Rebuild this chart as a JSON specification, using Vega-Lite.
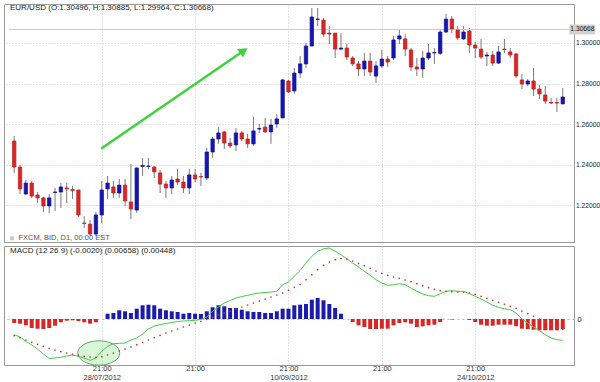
{
  "$schema": "https://vega.github.io/schema/vega-lite/v6.json",
  "padding": {"left": 3, "top": 3, "right": 0, "bottom": 0},
  "background": "white",
  "spacing": 2,
  "config": {
    "view": {"stroke": "#9a9a9a", "strokeWidth": 1},
    "font": "Liberation Sans",
    "axis": {"labelFont": "Liberation Sans"}
  },
  "datasets": {
    "k": [
      {"i":0,"o":1.2517,"h":1.2542,"l":1.2360,"c":1.2389,"m":-0.00314,"s":-0.00334,"hist":-0.0008},
      {"i":1,"o":1.2389,"h":1.2399,"l":1.2256,"c":1.2281,"m":-0.0036,"s":-0.00374,"hist":-0.00094},
      {"i":2,"o":1.2256,"h":1.2325,"l":1.2251,"c":1.2310,"m":-0.00446,"s":-0.0042,"hist":-0.00126},
      {"i":3,"o":1.2310,"h":1.2320,"l":1.2237,"c":1.2246,"m":-0.0052,"s":-0.00466,"hist":-0.0018},
      {"i":4,"o":1.2251,"h":1.2266,"l":1.2212,"c":1.2237,"m":-0.006,"s":-0.00506,"hist":-0.00194},
      {"i":5,"o":1.2237,"h":1.2242,"l":1.2168,"c":1.2197,"m":-0.007,"s":-0.00546,"hist":-0.002},
      {"i":6,"o":1.2197,"h":1.2256,"l":1.2163,"c":1.2237,"m":-0.0079,"s":-0.00586,"hist":-0.0018},
      {"i":7,"o":1.2264,"h":1.2286,"l":1.2172,"c":1.2266,"m":-0.0078,"s":-0.0062,"hist":-0.00134},
      {"i":8,"o":1.2266,"h":1.2310,"l":1.2187,"c":1.2291,"m":-0.00766,"s":-0.00654,"hist":-0.00066},
      {"i":9,"o":1.2286,"h":1.2310,"l":1.2212,"c":1.2281,"m":-0.0074,"s":-0.0068,"hist":-0.00034},
      {"i":10,"o":1.2278,"h":1.2296,"l":1.2232,"c":1.2273,"m":-0.0072,"s":-0.00706,"hist":-0.00026},
      {"i":11,"o":1.2276,"h":1.2276,"l":1.2143,"c":1.2153,"m":-0.00746,"s":-0.00726,"hist":-0.0004},
      {"i":12,"o":1.2113,"h":1.2147,"l":1.2089,"c":1.2111,"m":-0.0078,"s":-0.00746,"hist":-0.00066},
      {"i":13,"o":1.2108,"h":1.2128,"l":1.2049,"c":1.2059,"m":-0.00826,"s":-0.0076,"hist":-0.00094},
      {"i":14,"o":1.2059,"h":1.2167,"l":1.2049,"c":1.2153,"m":-0.0078,"s":-0.00766,"hist":-0.00066},
      {"i":15,"o":1.2153,"h":1.2320,"l":1.2113,"c":1.2276,"m":-0.00646,"s":-0.00754,"hist":0},
      {"i":16,"o":1.2281,"h":1.2345,"l":1.2232,"c":1.2310,"m":-0.00546,"s":-0.0072,"hist":0.00106},
      {"i":17,"o":1.2291,"h":1.2320,"l":1.2237,"c":1.2261,"m":-0.00494,"s":-0.0068,"hist":0.0012},
      {"i":18,"o":1.2261,"h":1.2330,"l":1.2237,"c":1.2300,"m":-0.00486,"s":-0.0064,"hist":0.00174},
      {"i":19,"o":1.2300,"h":1.2330,"l":1.2197,"c":1.2222,"m":-0.0048,"s":-0.006,"hist":0.00154},
      {"i":20,"o":1.2217,"h":1.2404,"l":1.2133,"c":1.2182,"m":-0.0042,"s":-0.0056,"hist":0.0012},
      {"i":21,"o":1.2177,"h":1.2389,"l":1.2163,"c":1.2384,"m":-0.0038,"s":-0.00514,"hist":0.00206},
      {"i":22,"o":1.2392,"h":1.2433,"l":1.2345,"c":1.2397,"m":-0.003,"s":-0.00466,"hist":0.00274},
      {"i":23,"o":1.2392,"h":1.2433,"l":1.2379,"c":1.2394,"m":-0.002,"s":-0.0042,"hist":0.00286},
      {"i":24,"o":1.2389,"h":1.2394,"l":1.2335,"c":1.2365,"m":-0.0014,"s":-0.00374,"hist":0.00274},
      {"i":25,"o":1.2360,"h":1.2374,"l":1.2261,"c":1.2305,"m":-0.00114,"s":-0.00326,"hist":0.00206},
      {"i":26,"o":1.2305,"h":1.2320,"l":1.2237,"c":1.2286,"m":-0.0009,"s":-0.0028,"hist":0.00174},
      {"i":27,"o":1.2286,"h":1.2345,"l":1.2256,"c":1.2325,"m":-0.0007,"s":-0.0024,"hist":0.00154},
      {"i":28,"o":1.2330,"h":1.2379,"l":1.2300,"c":1.2315,"m":-0.0005,"s":-0.002,"hist":0.0014},
      {"i":29,"o":1.2315,"h":1.2345,"l":1.2261,"c":1.2286,"m":-0.0004,"s":-0.0016,"hist":0.00106},
      {"i":30,"o":1.2286,"h":1.2379,"l":1.2256,"c":1.2350,"m":-0.00034,"s":-0.0012,"hist":0.0012},
      {"i":31,"o":1.2350,"h":1.2379,"l":1.2315,"c":1.2330,"m":-0.00026,"s":-0.0008,"hist":0.00106},
      {"i":32,"o":1.2342,"h":1.2360,"l":1.2296,"c":1.2340,"m":-0.0001,"s":-0.00046,"hist":0.001},
      {"i":33,"o":1.2335,"h":1.2483,"l":1.2325,"c":1.2463,"m":0.0004,"s":-0.00006,"hist":0.00154},
      {"i":34,"o":1.2463,"h":1.2537,"l":1.2434,"c":1.2527,"m":0.00154,"s":0.00034,"hist":0.00234},
      {"i":35,"o":1.2527,"h":1.2586,"l":1.2503,"c":1.2557,"m":0.0024,"s":0.0008,"hist":0.00274},
      {"i":36,"o":1.2562,"h":1.2567,"l":1.2478,"c":1.2507,"m":0.0032,"s":0.0012,"hist":0.00254},
      {"i":37,"o":1.2507,"h":1.2532,"l":1.2483,"c":1.2493,"m":0.0037,"s":0.0016,"hist":0.0022},
      {"i":38,"o":1.2498,"h":1.2581,"l":1.2468,"c":1.2557,"m":0.0042,"s":0.002,"hist":0.0022},
      {"i":39,"o":1.2557,"h":1.2567,"l":1.2517,"c":1.2527,"m":0.0045,"s":0.0024,"hist":0.00186},
      {"i":40,"o":1.2527,"h":1.2552,"l":1.2483,"c":1.2503,"m":0.00474,"s":0.0028,"hist":0.00154},
      {"i":41,"o":1.2503,"h":1.2636,"l":1.2493,"c":1.2567,"m":0.005,"s":0.0032,"hist":0.0014},
      {"i":42,"o":1.2576,"h":1.2601,"l":1.2557,"c":1.2579,"m":0.0052,"s":0.0036,"hist":0.0014},
      {"i":43,"o":1.2586,"h":1.2631,"l":1.2557,"c":1.2562,"m":0.0053,"s":0.004,"hist":0.0012},
      {"i":44,"o":1.2562,"h":1.2626,"l":1.2503,"c":1.2596,"m":0.0054,"s":0.0044,"hist":0.0012},
      {"i":45,"o":1.2601,"h":1.2650,"l":1.2581,"c":1.2626,"m":0.00554,"s":0.0048,"hist":0.00154},
      {"i":46,"o":1.2631,"h":1.2823,"l":1.2631,"c":1.2818,"m":0.00686,"s":0.0052,"hist":0.00206},
      {"i":47,"o":1.2813,"h":1.2818,"l":1.2754,"c":1.2759,"m":0.0074,"s":0.00574,"hist":0.00206},
      {"i":48,"o":1.2764,"h":1.2877,"l":1.2749,"c":1.2852,"m":0.00854,"s":0.00634,"hist":0.00274},
      {"i":49,"o":1.2852,"h":1.2936,"l":1.2828,"c":1.2897,"m":0.0097,"s":0.0069,"hist":0.00286},
      {"i":50,"o":1.2897,"h":1.3000,"l":1.2877,"c":1.2985,"m":0.0112,"s":0.00786,"hist":0.003},
      {"i":51,"o":1.2985,"h":1.3172,"l":1.2985,"c":1.3128,"m":0.01254,"s":0.00886,"hist":0.00386},
      {"i":52,"o":1.3116,"h":1.3172,"l":1.3084,"c":1.3118,"m":0.01354,"s":0.00986,"hist":0.0042},
      {"i":53,"o":1.3113,"h":1.3123,"l":1.3030,"c":1.3044,"m":0.01406,"s":0.01074,"hist":0.00374},
      {"i":54,"o":1.3049,"h":1.3084,"l":1.2995,"c":1.3044,"m":0.0142,"s":0.0114,"hist":0.003},
      {"i":55,"o":1.3049,"h":1.3049,"l":1.2926,"c":1.2970,"m":0.01354,"s":0.01186,"hist":0.0022},
      {"i":56,"o":1.2970,"h":1.3049,"l":1.2966,"c":1.2975,"m":0.01286,"s":0.01214,"hist":0.00106},
      {"i":57,"o":1.2975,"h":1.2995,"l":1.2916,"c":1.2931,"m":0.012,"s":0.012,"hist":0},
      {"i":58,"o":1.2926,"h":1.2936,"l":1.2887,"c":1.2897,"m":0.0112,"s":0.0116,"hist":-0.0006},
      {"i":59,"o":1.2897,"h":1.2911,"l":1.2837,"c":1.2872,"m":0.0104,"s":0.01114,"hist":-0.00126},
      {"i":60,"o":1.2872,"h":1.2951,"l":1.2837,"c":1.2911,"m":0.00954,"s":0.01066,"hist":-0.0016},
      {"i":61,"o":1.2911,"h":1.2951,"l":1.2837,"c":1.2857,"m":0.00874,"s":0.01014,"hist":-0.002},
      {"i":62,"o":1.2837,"h":1.2911,"l":1.2803,"c":1.2887,"m":0.00786,"s":0.0096,"hist":-0.002},
      {"i":63,"o":1.2887,"h":1.2966,"l":1.2877,"c":1.2921,"m":0.0072,"s":0.00914,"hist":-0.00194},
      {"i":64,"o":1.2921,"h":1.2936,"l":1.2882,"c":1.2906,"m":0.00674,"s":0.00874,"hist":-0.00194},
      {"i":65,"o":1.2926,"h":1.3035,"l":1.2916,"c":1.3015,"m":0.00686,"s":0.0084,"hist":-0.00126},
      {"i":66,"o":1.3020,"h":1.3069,"l":1.2995,"c":1.3035,"m":0.00706,"s":0.00814,"hist":-0.0008},
      {"i":67,"o":1.3020,"h":1.3044,"l":1.2936,"c":1.2970,"m":0.00686,"s":0.0078,"hist":-0.00066},
      {"i":68,"o":1.2966,"h":1.2975,"l":1.2862,"c":1.2882,"m":0.0062,"s":0.00746,"hist":-0.00094},
      {"i":69,"o":1.2882,"h":1.2926,"l":1.2837,"c":1.2872,"m":0.00554,"s":0.00706,"hist":-0.0016},
      {"i":70,"o":1.2872,"h":1.2961,"l":1.2828,"c":1.2926,"m":0.005,"s":0.00666,"hist":-0.00146},
      {"i":71,"o":1.2926,"h":1.2995,"l":1.2916,"c":1.2951,"m":0.00466,"s":0.00626,"hist":-0.00126},
      {"i":72,"o":1.2951,"h":1.2975,"l":1.2897,"c":1.2953,"m":0.00454,"s":0.00594,"hist":-0.00114},
      {"i":73,"o":1.2949,"h":1.3064,"l":1.2941,"c":1.3054,"m":0.00506,"s":0.00566,"hist":-0.0006},
      {"i":74,"o":1.3054,"h":1.3143,"l":1.3049,"c":1.3118,"m":0.00554,"s":0.00554,"hist":0},
      {"i":75,"o":1.3118,"h":1.3133,"l":1.3049,"c":1.3069,"m":0.00566,"s":0.00546,"hist":-0.0001},
      {"i":76,"o":1.3064,"h":1.3084,"l":1.3015,"c":1.3025,"m":0.00554,"s":0.0054,"hist":0},
      {"i":77,"o":1.3020,"h":1.3084,"l":1.3015,"c":1.3054,"m":0.00554,"s":0.00534,"hist":0},
      {"i":78,"o":1.3059,"h":1.3074,"l":1.2951,"c":1.2990,"m":0.00506,"s":0.0052,"hist":-0.0002},
      {"i":79,"o":1.2990,"h":1.3005,"l":1.2926,"c":1.2975,"m":0.00454,"s":0.00494,"hist":-0.0006},
      {"i":80,"o":1.2970,"h":1.3020,"l":1.2921,"c":1.2931,"m":0.004,"s":0.00454,"hist":-0.00114},
      {"i":81,"o":1.2936,"h":1.2956,"l":1.2887,"c":1.2941,"m":0.0034,"s":0.00414,"hist":-0.00134},
      {"i":82,"o":1.2941,"h":1.2961,"l":1.2887,"c":1.2901,"m":0.00274,"s":0.00374,"hist":-0.00134},
      {"i":83,"o":1.2901,"h":1.2985,"l":1.2897,"c":1.2956,"m":0.00234,"s":0.00334,"hist":-0.00114},
      {"i":84,"o":1.2970,"h":1.3020,"l":1.2951,"c":1.2968,"m":0.00206,"s":0.00294,"hist":-0.00114},
      {"i":85,"o":1.2956,"h":1.2975,"l":1.2926,"c":1.2941,"m":0.00186,"s":0.00254,"hist":-0.00114},
      {"i":86,"o":1.2946,"h":1.2951,"l":1.2828,"c":1.2838,"m":0.0012,"s":0.00214,"hist":-0.00146},
      {"i":87,"o":1.2818,"h":1.2847,"l":1.2773,"c":1.2798,"m":0,"s":0.0016,"hist":-0.00194},
      {"i":88,"o":1.2798,"h":1.2823,"l":1.2788,"c":1.2813,"m":-0.0008,"s":0.00106,"hist":-0.002},
      {"i":89,"o":1.2813,"h":1.2877,"l":1.2739,"c":1.2773,"m":-0.0016,"s":0.00054,"hist":-0.00214},
      {"i":90,"o":1.2773,"h":1.2793,"l":1.2724,"c":1.2749,"m":-0.00234,"s":0,"hist":-0.00226},
      {"i":91,"o":1.2744,"h":1.2788,"l":1.2700,"c":1.2714,"m":-0.00314,"s":-0.00054,"hist":-0.00226},
      {"i":92,"o":1.2707,"h":1.2729,"l":1.2700,"c":1.2704,"m":-0.0038,"s":-0.00106,"hist":-0.00226},
      {"i":93,"o":1.2707,"h":1.2729,"l":1.2660,"c":1.2704,"m":-0.00414,"s":-0.0016,"hist":-0.00226},
      {"i":94,"o":1.2700,"h":1.2778,"l":1.2698,"c":1.2734,"m":-0.00426,"s":-0.00206,"hist":-0.002}
    ]
  },
  "vconcat": [
    {
      "width": 570,
      "height": 238,
      "data": {"name": "k"},
      "layer": [
        {
          "mark": {"type": "rule", "color": "#7a7a7a", "strokeWidth": 1},
          "encoding": {
            "x": {"field": "i", "type": "quantitative", "title": null,
                  "scale": {"domain": [-0.892, 95.07], "nice": false, "zero": false},
                  "axis": {"values": [15, 31, 47, 63, 79], "labels": false, "ticks": false, "domain": false,
                           "grid": true, "gridDash": [1, 2], "gridColor": "#c4c4c4", "title": null}},
            "y": {"field": "l", "type": "quantitative", "title": null,
                  "scale": {"domain": [1.20197, 1.31921], "nice": false, "zero": false},
                  "axis": {"orient": "right", "values": [1.22, 1.24, 1.26, 1.28, 1.30], "format": ".5f",
                           "grid": true, "gridDash": [1, 2], "gridColor": "#c4c4c4", "ticks": false, "domain": false,
                           "labelPadding": 1.5, "labelFontSize": 6.7, "labelColor": "#222", "title": null}},
            "y2": {"field": "h"}
          }
        },
        {
          "data": {"values": [{}]},
          "mark": {"type": "rule", "color": "#efbcbc", "strokeWidth": 1},
          "encoding": {
            "x": {"datum": -0.892},
            "x2": {"datum": 95.07},
            "y": {"datum": 1.30668}
          }
        },
        {
          "mark": {"type": "bar", "width": 3.4, "strokeWidth": 0.7},
          "encoding": {
            "x": {"field": "i", "type": "quantitative", "title": null},
            "y": {"field": "o", "type": "quantitative", "title": null},
            "y2": {"field": "c"},
            "color": {"condition": {"test": "datum.c >= datum.o", "value": "#1616b4"}, "value": "#d82626"},
            "stroke": {"condition": {"test": "datum.c >= datum.o", "value": "#10108c"}, "value": "#bb1e1e"}
          }
        },
        {
          "data": {"values": [{}]},
          "mark": {"type": "rule", "color": "#3fd23f", "strokeWidth": 2.5},
          "encoding": {
            "x": {"datum": 14.88},
            "y": {"datum": 1.24793},
            "x2": {"datum": 39.0},
            "y2": {"datum": 1.29557}
          }
        },
        {
          "data": {"values": [{}]},
          "mark": {"type": "point", "shape": "triangle-up", "filled": true, "color": "#3fd23f", "opacity": 1, "size": 110, "angle": 56},
          "encoding": {
            "x": {"datum": 39.34},
            "y": {"datum": 1.29621}
          }
        },
        {
          "data": {"values": [{"t": "EUR/USD (O:1.30496, H:1.30885, L:1.29964, C:1.30668)"}]},
          "mark": {"type": "text", "align": "left", "baseline": "middle", "fontSize": 8, "color": "#222"},
          "encoding": {
            "text": {"field": "t"},
            "x": {"datum": -0.72},
            "y": {"datum": 1.31724}
          }
        },
        {
          "data": {"values": [{"t": "FXCM, BID, D1, 00:00 EST"}]},
          "mark": {"type": "text", "align": "left", "baseline": "middle", "fontSize": 7.5, "color": "#555"},
          "encoding": {
            "text": {"field": "t"},
            "x": {"datum": 0.74},
            "y": {"datum": 1.20379}
          }
        },
        {
          "data": {"values": [{}]},
          "mark": {"type": "point", "shape": "square", "filled": true, "color": "#c8c8c8", "opacity": 1, "size": 16},
          "encoding": {
            "x": {"datum": -0.39},
            "y": {"datum": 1.20379}
          }
        },
        {
          "data": {"values": [{}]},
          "mark": {"type": "rect", "color": "#d2d2d2", "clip": false},
          "encoding": {
            "x": {"datum": 95.12},
            "x2": {"datum": 99.5},
            "y": {"datum": 1.30914},
            "y2": {"datum": 1.30422}
          }
        },
        {
          "data": {"values": [{"t": "1.30668"}]},
          "mark": {"type": "text", "align": "left", "baseline": "middle", "fontSize": 6.7, "color": "#111"},
          "encoding": {
            "text": {"field": "t"},
            "x": {"datum": 95.3},
            "y": {"datum": 1.30668}
          }
        }
      ]
    },
    {
      "width": 570,
      "height": 119,
      "data": {"name": "k"},
      "layer": [
        {
          "mark": {"type": "bar", "width": 4},
          "encoding": {
            "x": {"field": "i", "type": "quantitative", "title": null,
                  "scale": {"domain": [-0.892, 95.07], "nice": false, "zero": false},
                  "axis": {"values": [15, 31, 47, 63, 79],
                           "labelExpr": "datum.value == 15 ? ['21:00', '28/07/2012'] : datum.value == 47 ? ['21:00', '10/09/2012'] : datum.value == 79 ? ['21:00', '24/10/2012'] : '21:00'",
                           "ticks": false, "domain": false, "grid": true, "gridDash": [1, 2], "gridColor": "#c4c4c4",
                           "labelPadding": -1, "labelFontSize": 7.5, "labelLineHeight": 9.5, "labelColor": "#333", "title": null}},
            "y": {"field": "hist", "type": "quantitative", "title": null,
                  "scale": {"domain": [-0.0092, 0.0146], "nice": false},
                  "axis": {"orient": "right", "values": [0], "format": "d", "grid": true, "gridDash": [2, 3],
                           "gridColor": "#b8b8b8", "ticks": false, "domain": false, "labelPadding": 3,
                           "labelFontSize": 7.5, "labelColor": "#222", "title": null}},
            "color": {"condition": {"test": "datum.hist >= 0", "value": "#1c1cac"}, "value": "#d82626"}
          }
        },
        {
          "data": {"values": [{}]},
          "mark": {"type": "point", "shape": "M-1,0A1,0.58,0,1,0,1,0A1,0.58,0,1,0,-1,0Z", "size": 1764,
                   "filled": true, "fill": "#a8eca8", "fillOpacity": 0.45, "stroke": "#4a8a4a", "strokeWidth": 0.8, "opacity": 1, "clip": true},
          "encoding": {
            "x": {"datum": 14.5},
            "y": {"datum": -0.0068}
          }
        },
        {
          "mark": {"type": "line", "color": "#44cc44", "strokeWidth": 1},
          "encoding": {
            "x": {"field": "i", "type": "quantitative", "title": null},
            "y": {"field": "m", "type": "quantitative", "title": null}
          }
        },
        {
          "mark": {"type": "point", "filled": true, "size": 3, "color": "#c83c3c", "opacity": 1},
          "encoding": {
            "x": {"field": "i", "type": "quantitative", "title": null},
            "y": {"field": "s", "type": "quantitative", "title": null}
          }
        },
        {
          "data": {"values": [{"t": "MACD (12 26 9)  (-0.0020) (0.00658) (0.00448)"}]},
          "mark": {"type": "text", "align": "left", "baseline": "middle", "fontSize": 8, "color": "#222"},
          "encoding": {
            "text": {"field": "t"},
            "x": {"datum": -0.72},
            "y": {"datum": 0.0136}
          }
        }
      ]
    }
  ],
  "resolve": {"scale": {"x": "independent", "y": "independent"}}
}
